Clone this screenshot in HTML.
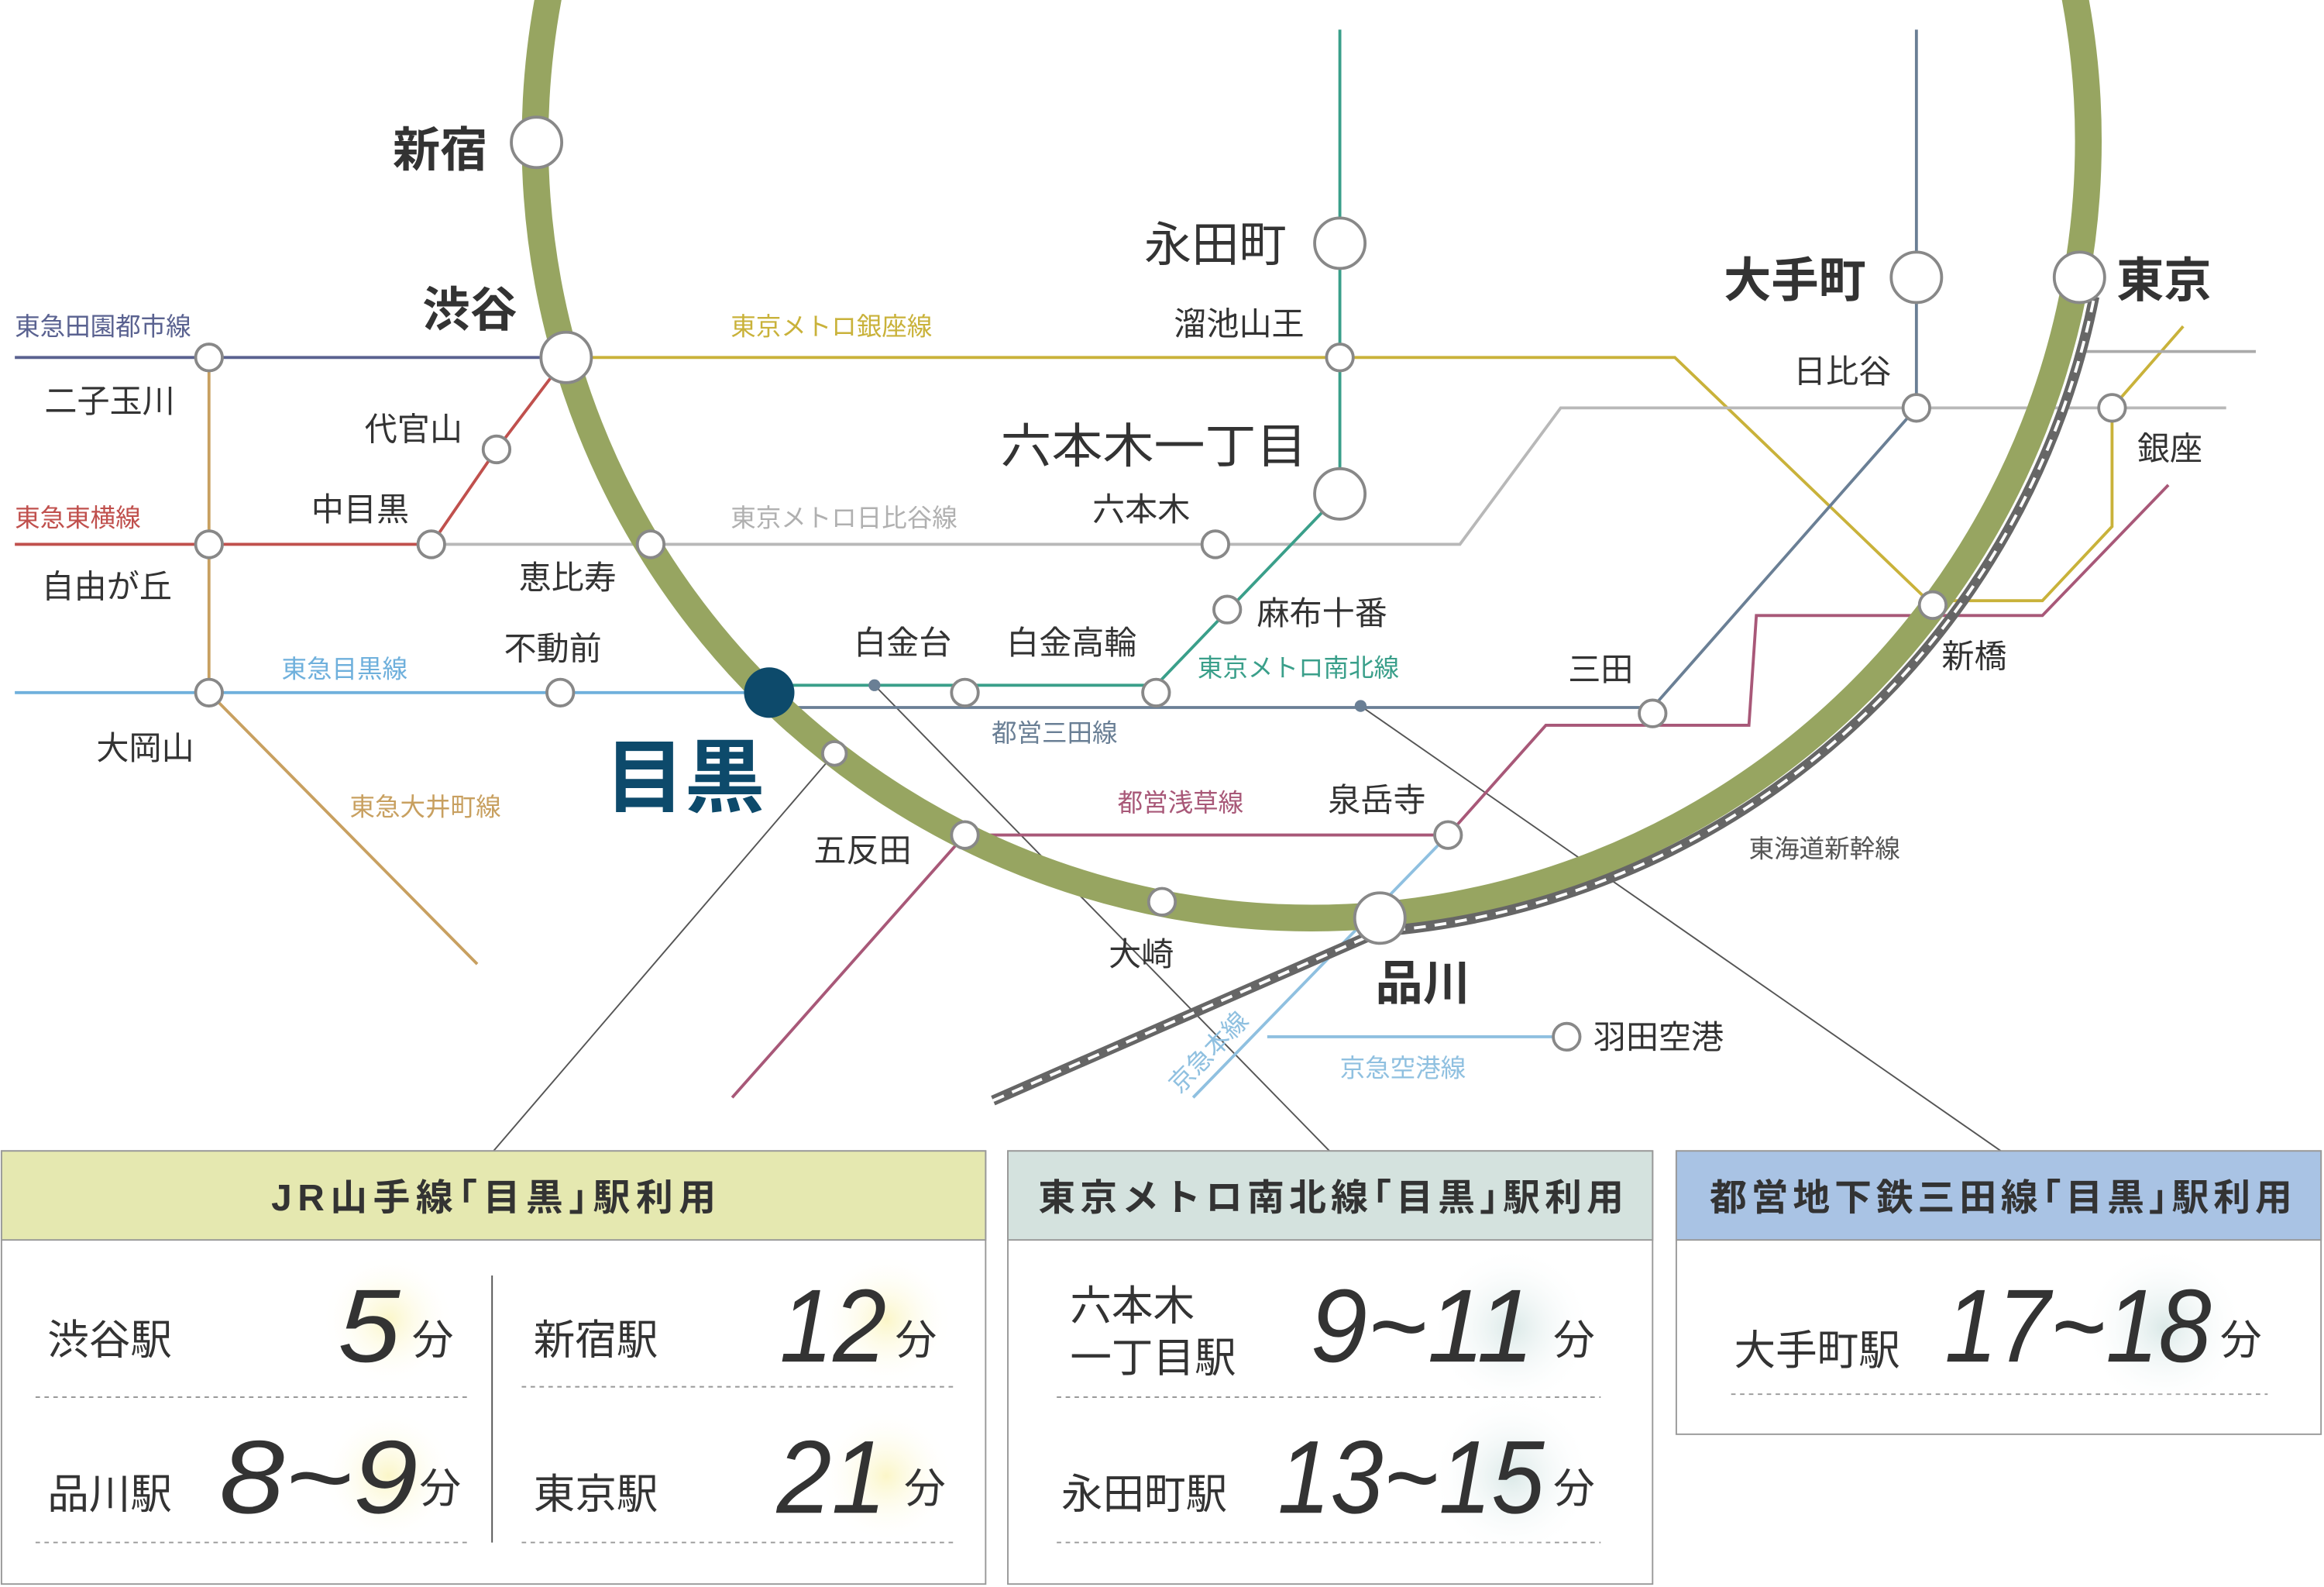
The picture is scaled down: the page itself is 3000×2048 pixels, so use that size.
<!DOCTYPE html>
<html><head><meta charset="utf-8"><style>
html,body{margin:0;padding:0;background:#fff}
svg{display:block}
text{font-family:"Liberation Sans","Noto Sans CJK JP",sans-serif;fill:#333}
.b{font-weight:bold}
.n{font-family:"Liberation Sans",sans-serif;font-style:italic;font-weight:normal;fill:#333}
</style></head><body>
<svg width="3000" height="2048" viewBox="0 0 1568 1070" preserveAspectRatio="none" xmlns="http://www.w3.org/2000/svg">
<defs>
<radialGradient id="g1"><stop offset="0" stop-color="#fbf6c8"/><stop offset="1" stop-color="#fff" stop-opacity="0"/></radialGradient>
<radialGradient id="g2"><stop offset="0" stop-color="#dbe9e8"/><stop offset="1" stop-color="#fff" stop-opacity="0"/></radialGradient>
</defs>
<g stroke="#555" stroke-width="1" fill="none">
<line x1="563" y1="508" x2="333" y2="776"/>
<line x1="590" y1="462" x2="897" y2="776"/>
<line x1="918" y1="476" x2="1350" y2="776"/>
</g>
<g fill="none" stroke-width="2">
<polyline stroke="#5a6290" points="10,241 382,241"/>
<polyline stroke="#c9b23a" points="382,241 1130,241 1304,408"/>
<polyline stroke="#c9b23a" points="1304,405 1378,405 1425,355 1425,275 1473,220"/>
<polyline stroke="#b8b8b8" points="291,367 985,367 1053,275 1502,275"/>
<polyline stroke="#aaa" points="1403,237 1522,237"/>
<polyline stroke="#c0504d" points="10,367 291,367 335,303 382,241"/>
<polyline stroke="#c8a060" points="141,241 141,467 322,650"/>
<polyline stroke="#6fb0dc" points="10,467 519,467"/>
<polyline stroke="#3a9f8a" points="519,462 780,462 904,333 904,20"/>
<polyline stroke="#6a7f95" points="519,477 1115,477 1293,275 1293,20"/>
<polyline stroke="#a85878" points="494,740 651,563 977,563 1043,489 1180,489 1185,415 1378,415 1463,327"/>
<polyline stroke="#8fc0e0" points="977,563 805,740"/>
<polyline stroke="#8fc0e0" points="855,699 1057,699"/>
</g>
<circle cx="885" cy="95" r="524" fill="none" stroke="#97a561" stroke-width="18"/>
<g fill="none">
<path d="M670,742 L931,628 A534,534 0 0 0 1413,200" stroke="#666" stroke-width="7"/>
<path d="M670,742 L931,628 A534,534 0 0 0 1413,200" stroke="#fff" stroke-width="2" stroke-dasharray="8,6"/>
</g>
<g fill="#fff" stroke="#888" stroke-width="2">
<circle cx="362" cy="96" r="17"/><circle cx="382" cy="241" r="17"/>
<circle cx="904" cy="164" r="17"/><circle cx="904" cy="333" r="17"/>
<circle cx="1293" cy="187" r="17"/><circle cx="1403" cy="187" r="17"/>
<circle cx="931" cy="619" r="17"/>
<circle cx="141" cy="241" r="9"/><circle cx="141" cy="367" r="9"/><circle cx="141" cy="467" r="9"/>
<circle cx="335" cy="303" r="9"/><circle cx="291" cy="367" r="9"/><circle cx="439" cy="367" r="9"/>
<circle cx="378" cy="467" r="9"/><circle cx="563" cy="508" r="8"/><circle cx="651" cy="467" r="9"/>
<circle cx="780" cy="467" r="9"/><circle cx="828" cy="411" r="9"/><circle cx="820" cy="367" r="9"/>
<circle cx="904" cy="241" r="9"/><circle cx="1293" cy="275" r="9"/><circle cx="1425" cy="275" r="9"/>
<circle cx="1304" cy="408" r="9"/><circle cx="1115" cy="481" r="9"/><circle cx="977" cy="563" r="9"/>
<circle cx="651" cy="563" r="9"/><circle cx="784" cy="608" r="9"/><circle cx="1057" cy="699" r="9"/>
</g>
<circle cx="590" cy="462" r="4" fill="#6a7f95"/><circle cx="918" cy="476" r="4" fill="#6a7f95"/>
<circle cx="519" cy="467" r="17" fill="#0d4a6b"/>
<g font-size="32"><text x="265" y="112" class="b">新宿</text><text x="285" y="220" class="b">渋谷</text>
<text x="1163" y="200" class="b">大手町</text><text x="1428" y="200" class="b">東京</text><text x="928" y="674" class="b">品川</text></g>
<text x="408" y="543" font-size="54" class="b" style="fill:#0d4a6b">目黒</text>
<g font-size="32"><text x="772" y="176">永田町</text><text x="675" y="312" textLength="207" lengthAdjust="spacingAndGlyphs">六本木一丁目</text></g>
<g font-size="22">
<text x="30" y="278">二子玉川</text><text x="246" y="297">代官山</text><text x="210" y="351">中目黒</text>
<text x="28" y="403">自由が丘</text><text x="350" y="397">恵比寿</text><text x="340" y="445">不動前</text>
<text x="65" y="512">大岡山</text><text x="576" y="441">白金台</text><text x="679" y="441">白金高輪</text>
<text x="737" y="351">六本木</text><text x="848" y="421">麻布十番</text><text x="792" y="226">溜池山王</text>
<text x="1210" y="258">日比谷</text><text x="1442" y="310">銀座</text><text x="1310" y="450">新橋</text>
<text x="1058" y="459">三田</text><text x="896" y="547">泉岳寺</text><text x="549" y="581">五反田</text>
<text x="748" y="651">大崎</text><text x="1075" y="707">羽田空港</text>
</g>
<g font-size="17">
<text x="10" y="226" style="fill:#5a6290">東急田園都市線</text>
<text x="10" y="355" style="fill:#c0504d">東急東横線</text>
<text x="190" y="457" style="fill:#6fb0dc">東急目黒線</text>
<text x="236" y="550" style="fill:#c8a060">東急大井町線</text>
<text x="493" y="226" style="fill:#c9b23a">東京メトロ銀座線</text>
<text x="493" y="355" style="fill:#b0b0b0">東京メトロ日比谷線</text>
<text x="808" y="456" style="fill:#3a9f8a">東京メトロ南北線</text>
<text x="669" y="500" style="fill:#6a7f95">都営三田線</text>
<text x="754" y="547" style="fill:#a85878">都営浅草線</text>
<text x="1180" y="578" style="fill:#555">東海道新幹線</text>
<text x="904" y="726" style="fill:#8fc0e0">京急空港線</text>
<text x="0" y="0" transform="translate(796,738) rotate(-46)" style="fill:#8fc0e0">京急本線</text>
</g>
<g stroke="#999" stroke-width="1">
<rect x="1" y="776" width="664" height="292" fill="#fff"/><rect x="1" y="776" width="664" height="60" fill="#e5e8b0"/>
<rect x="680" y="776" width="435" height="292" fill="#fff"/><rect x="680" y="776" width="435" height="60" fill="#d4e2de"/>
<rect x="1131" y="776" width="435" height="191" fill="#fff"/><rect x="1131" y="776" width="435" height="60" fill="#a9c3e4"/>
</g>
<g font-size="25" font-weight="600" text-anchor="middle"><text x="333" y="816" textLength="300">JR山手線｢目黒｣駅利用</text>
<text x="898" y="816" textLength="395">東京メトロ南北線｢目黒｣駅利用</text><text x="1350" y="816" textLength="393">都営地下鉄三田線｢目黒｣駅利用</text></g>
<line x1="332" y1="860" x2="332" y2="1040" stroke="#555"/>
<g stroke="#999" stroke-dasharray="3,3">
<line x1="24" y1="942" x2="316" y2="942"/><line x1="352" y1="935" x2="644" y2="935"/>
<line x1="24" y1="1040" x2="316" y2="1040"/><line x1="352" y1="1040" x2="644" y2="1040"/>
<line x1="713" y1="942" x2="1080" y2="942"/><line x1="713" y1="1040" x2="1080" y2="1040"/>
<line x1="1168" y1="940" x2="1530" y2="940"/>
</g>
<g fill="url(#g1)"><circle cx="262" cy="890" r="45"/><circle cx="598" cy="890" r="45"/><circle cx="262" cy="995" r="45"/><circle cx="598" cy="995" r="45"/></g>
<g fill="url(#g2)"><circle cx="1020" cy="895" r="55"/><circle cx="1020" cy="995" r="55"/><circle cx="1460" cy="895" r="55"/></g>
<g font-size="28"><text x="32" y="913">渋谷駅</text><text x="360" y="913">新宿駅</text><text x="32" y="1017">品川駅</text><text x="360" y="1017">東京駅</text>
<text x="722" y="890">六本木</text><text x="722" y="925">一丁目駅</text><text x="716" y="1017">永田町駅</text><text x="1170" y="920">大手町駅</text>
<text x="278" y="913">分</text><text x="604" y="913">分</text><text x="283" y="1013">分</text><text x="610" y="1013">分</text>
<text x="1048" y="913">分</text><text x="1048" y="1013">分</text><text x="1498" y="913">分</text></g>
<g font-size="70">
<text x="228" y="918" class="n" textLength="42" lengthAdjust="spacingAndGlyphs">5</text>
<text x="526" y="918" class="n" textLength="72" lengthAdjust="spacingAndGlyphs">12</text>
<text x="148" y="1020" class="n" textLength="134" lengthAdjust="spacingAndGlyphs">8~9</text>
<text x="524" y="1020" class="n" textLength="74" lengthAdjust="spacingAndGlyphs">21</text>
<text x="884" y="918" class="n" textLength="151" lengthAdjust="spacingAndGlyphs">9~11</text>
<text x="862" y="1020" class="n" textLength="180" lengthAdjust="spacingAndGlyphs">13~15</text>
<text x="1312" y="918" class="n" textLength="180" lengthAdjust="spacingAndGlyphs">17~18</text></g>
</svg>
</body></html>
